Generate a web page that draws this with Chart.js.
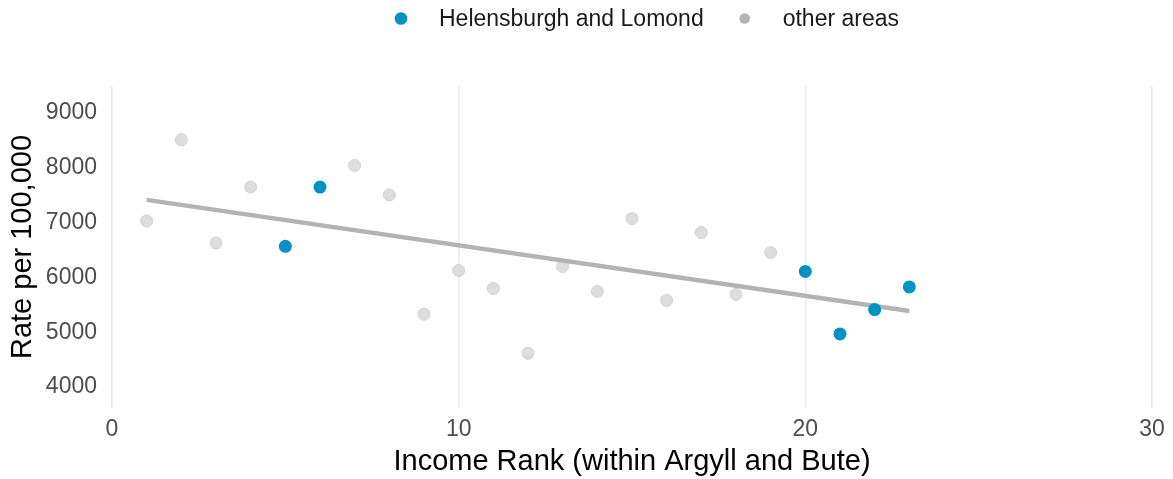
<!DOCTYPE html>
<html>
<head>
<meta charset="utf-8">
<script src="https://cdn.jsdelivr.net/npm/chart.js@4/dist/chart.umd.min.js"></script>
<style>
  html, body { margin: 0; padding: 0; background: #ffffff; }
  #wrap { width: 1173px; height: 479px; }
</style>
</head>
<body>
<div id="wrap"><canvas id="c" width="1173" height="479"></canvas></div>
<script>
// Income rank of each intermediate zone and its rate per 100,000
const incomeRank = [1, 2, 3, 4, 5, 6, 7, 8, 9, 10, 11, 12, 13, 14, 15, 16, 17, 18, 19, 20, 21, 22, 23];
const ratePer100k = [7029, 8511, 6630, 7648, 6568, 7648, 8042, 7505, 5328, 6128, 5799, 4617,
                     6200, 5745, 7073, 5580, 6818, 5690, 6453, 6109, 4970, 5414, 5828];
// Which zones belong to Helensburgh and Lomond
const helensburghRanks = [5, 6, 20, 21, 22, 23];
// Linear trend across all zones (end points)
const trendRank = [1, 23];
const trendRate = [7414, 5390];
// Axis ticks
const xTicks = [0, 10, 20, 30];
const yTicks = [4000, 5000, 6000, 7000, 8000, 9000];
const seriesNames = ['Helensburgh and Lomond', 'other areas'];

const FONT = "'Liberation Sans', Arial, Helvetica, sans-serif";
const BLUE = '#0392c4';
const GREY_POINT = '#dddddd';
const GREY_LINE = '#b3b3b3';

const helensburghPts = [];
const otherPts = [];
incomeRank.forEach((r, i) => {
  const p = { x: r, y: ratePer100k[i] };
  if (helensburghRanks.includes(r)) helensburghPts.push(p); else otherPts.push(p);
});
const trendPts = trendRank.map((r, i) => ({ x: r, y: trendRate[i] }));

// Legend drawn across the top, centred over the plot
const topLegend = {
  id: 'topLegend',
  afterDraw(chart) {
    const ctx = chart.ctx;
    const items = [
      { label: seriesNames[0], color: BLUE, r: 6.3 },
      { label: seriesNames[1], color: GREY_LINE, r: 5.3 }
    ];
    ctx.save();
    ctx.font = '23px ' + FONT;
    const dotGap = 38, itemGap = 41;
    let total = 0;
    items.forEach((it, i) => {
      it.w = ctx.measureText(it.label).width;
      total += dotGap + it.w + (i < items.length - 1 ? itemGap : 0);
    });
    let x = 647 - (total + 6) / 2 + 6;
    const y = 18.5;
    items.forEach(it => {
      ctx.fillStyle = it.color;
      ctx.beginPath();
      ctx.arc(x, y, it.r, 0, Math.PI * 2);
      ctx.fill();
      ctx.fillStyle = '#1a1a1a';
      ctx.textBaseline = 'middle';
      ctx.textAlign = 'left';
      ctx.fillText(it.label, x + dotGap, y + 1);
      x += dotGap + it.w + itemGap;
    });
    ctx.restore();
  }
};

new Chart(document.getElementById('c'), {
  type: 'scatter',
  data: {
    datasets: [
      {
        label: seriesNames[0],
        data: helensburghPts,
        backgroundColor: BLUE,
        borderColor: BLUE,
        borderWidth: 0,
        pointRadius: 6.5,
        order: 0
      },
      {
        label: 'trend',
        data: trendPts,
        showLine: true,
        borderColor: GREY_LINE,
        borderWidth: 4.5,
        borderCapStyle: 'butt',
        pointRadius: 0,
        order: 1
      },
      {
        label: seriesNames[1],
        data: otherPts,
        backgroundColor: GREY_POINT,
        borderColor: '#d2d2d2',
        borderWidth: 1,
        pointRadius: 6,
        order: 2
      }
    ]
  },
  options: {
    responsive: false,
    animation: false,
    devicePixelRatio: 1,
    layout: { padding: { top: 86, right: 21, left: 0, bottom: 0 } },
    plugins: {
      legend: { display: false },
      tooltip: { enabled: false }
    },
    scales: {
      x: {
        type: 'linear',
        min: 0,
        max: 30,
        afterBuildTicks: s => { s.ticks = xTicks.map(v => ({ value: v })); },
        afterFit: s => { s.height = 71; },
        grid: { color: '#ebebeb', lineWidth: 1.6, drawTicks: false },
        border: { display: false },
        ticks: {
          font: { family: FONT, size: 23 }, color: '#4d4d4d', padding: 8, maxRotation: 0,
          callback: v => String(v)
        },
        title: {
          display: true,
          text: 'Income Rank (within Argyll and Bute)',
          font: { family: FONT, size: 29 },
          color: '#000000',
          padding: 0
        }
      },
      y: {
        type: 'linear',
        min: 3620,
        max: 9490,
        afterBuildTicks: s => { s.ticks = yTicks.map(v => ({ value: v })); },
        afterFit: s => { s.width = 112; },
        grid: { display: false, drawTicks: false },
        border: { display: false },
        ticks: {
          font: { family: FONT, size: 23 }, color: '#4d4d4d', padding: 15,
          callback: v => String(v)
        },
        title: {
          display: true,
          text: 'Rate per 100,000',
          font: { family: FONT, size: 29 },
          color: '#000000',
          padding: { top: 6, bottom: 0 }
        }
      }
    }
  },
  plugins: [topLegend]
});
</script>
</body>
</html>
